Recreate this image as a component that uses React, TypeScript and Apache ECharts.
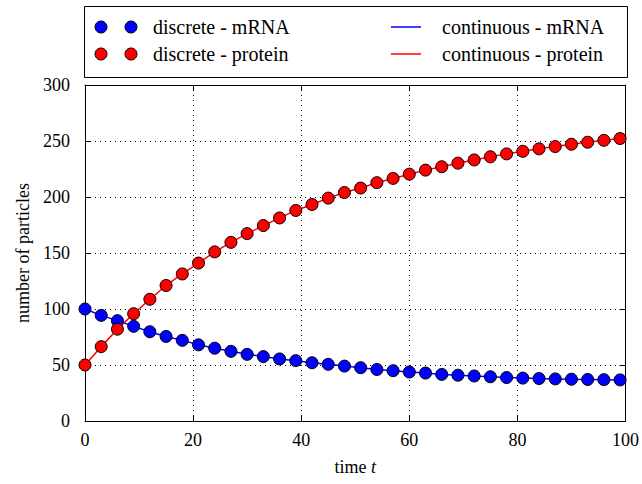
import React, { useEffect, useRef } from "react";
import * as echarts from "echarts";

const times = [0, 3, 6, 9, 12, 15, 18, 21, 24, 27, 30, 33, 36, 39, 42, 45, 48, 51, 54, 57, 60, 63, 66, 69, 72, 75, 78, 81, 84, 87, 90, 93, 96, 99];
const mrna = [100, 94.3, 89.6, 84.5, 79.7, 75.5, 72, 68, 65, 62.2, 59.5, 57.5, 55.4, 53.9, 52, 50.6, 49, 47.6, 46, 44.9, 43.7, 42.8, 41.6, 40.9, 40.2, 39.5, 38.8, 38.3, 37.9, 37.6, 37.3, 37.1, 36.9, 36.7];
const protein = [50, 66.4, 82, 95.8, 108.7, 121, 131.3, 141, 151, 159.5, 167.3, 174.5, 181.3, 188, 193.3, 199, 204, 208, 212.8, 216.6, 220.4, 224, 227, 230.2, 233.1, 235.9, 238.5, 240.8, 243, 245, 247.1, 248.9, 250.6, 252.2];
const xTicks = [0, 20, 40, 60, 80, 100];
const yTicks = [0, 50, 100, 150, 200, 250, 300];
const seriesNames = ["discrete - mRNA", "discrete - protein", "continuous - mRNA", "continuous - protein"];
const colors = ["#0000ff", "#ff0000"];

const FONT = "Liberation Serif";

export default function App() {
  const ref = useRef<HTMLDivElement>(null);
  useEffect(() => {
    if (!ref.current) return;
    const chart = echarts.init(ref.current, null, { renderer: "svg" });
    const pts = (ys: number[]) => times.map((t, i) => [t, ys[i]]);
    const xMin = xTicks[0];
    const xMax = xTicks[xTicks.length - 1];
    const yMin = yTicks[0];
    const yMax = yTicks[yTicks.length - 1];
    const baseText = { fontFamily: FONT, fontSize: 18, color: "#000" };

    const rowsY = [27, 54];
    const legendGraphics: any[] = [
      {
        type: "rect",
        shape: { x: 84.5, y: 6.5, width: 543, height: 71 },
        style: { fill: "#fff", stroke: "#000", lineWidth: 1 },
        silent: true,
        z: 10,
      },
    ];
    const legendText = (text: string, x: number, y: number) => ({
      type: "text",
      x,
      y,
      style: {
        text,
        fontFamily: FONT,
        fontSize: 20,
        fill: "#000",
        verticalAlign: "middle",
        align: "left",
      },
      silent: true,
      z: 11,
    });
    rowsY.forEach((y, r) => {
      [101, 131].forEach((cx) =>
        legendGraphics.push({
          type: "circle",
          shape: { cx, cy: y, r: 6 },
          style: { fill: colors[r], stroke: "#000", lineWidth: 1 },
          silent: true,
          z: 11,
        })
      );
      legendGraphics.push(legendText(seriesNames[r], 153, y));
      legendGraphics.push({
        type: "line",
        shape: { x1: 391, y1: y, x2: 421, y2: y },
        style: { stroke: colors[r], lineWidth: 1.5 },
        silent: true,
        z: 11,
      });
      legendGraphics.push(legendText(seriesNames[r + 2], 442, y));
    });

    chart.setOption({
      animation: false,
      backgroundColor: "#fff",
      textStyle: { fontFamily: FONT },
      grid: { left: 85, right: 15, top: 85, bottom: 63, show: false },
      graphic: legendGraphics,
      xAxis: [
        {
          type: "value",
          min: xMin,
          max: xMax,
          interval: 20,
          name: "time {i|t}",
          nameLocation: "middle",
          nameGap: 37,
          nameTextStyle: {
            ...baseText,
            rich: { i: { fontFamily: FONT, fontSize: 18, fontStyle: "italic", color: "#000" } },
          },
          axisLine: { show: true, onZero: false, lineStyle: { color: "#000", width: 1 } },
          axisTick: { show: true, inside: true, length: 6, lineStyle: { color: "#000" } },
          axisLabel: { ...baseText, margin: 10 },
          splitLine: { show: true, lineStyle: { color: "#000", type: [1, 4], width: 1 } },
        },
        {
          type: "value",
          position: "top",
          min: xMin,
          max: xMax,
          interval: 20,
          axisLine: { show: true, onZero: false, lineStyle: { color: "#000", width: 1 } },
          axisTick: { show: true, inside: true, length: 6, lineStyle: { color: "#000" } },
          axisLabel: { show: false },
          splitLine: { show: false },
        },
      ],
      yAxis: [
        {
          type: "value",
          min: yMin,
          max: yMax,
          interval: 50,
          name: "number of particles",
          nameLocation: "middle",
          nameGap: 52,
          nameTextStyle: baseText,
          axisLine: { show: true, onZero: false, lineStyle: { color: "#000", width: 1 } },
          axisTick: { show: true, inside: true, length: 6, lineStyle: { color: "#000" } },
          axisLabel: { ...baseText, margin: 15 },
          splitLine: { show: true, lineStyle: { color: "#000", type: [1, 4], width: 1 } },
        },
        {
          type: "value",
          position: "right",
          min: yMin,
          max: yMax,
          interval: 50,
          axisLine: { show: true, onZero: false, lineStyle: { color: "#000", width: 1 } },
          axisTick: { show: true, inside: true, length: 6, lineStyle: { color: "#000" } },
          axisLabel: { show: false },
          splitLine: { show: false },
        },
      ],
      series: [
        {
          name: seriesNames[2],
          type: "line",
          data: pts(mrna),
          symbol: "none",
          lineStyle: { color: colors[0], width: 1.5 },
          itemStyle: { color: colors[0] },
          z: 2,
        },
        {
          name: seriesNames[3],
          type: "line",
          data: pts(protein),
          symbol: "none",
          lineStyle: { color: colors[1], width: 1.5 },
          itemStyle: { color: colors[1] },
          z: 2,
        },
        {
          name: seriesNames[0],
          type: "scatter",
          data: pts(mrna),
          symbol: "circle",
          symbolSize: 12,
          itemStyle: { color: colors[0], borderColor: "#000", borderWidth: 1, opacity: 1 },
          z: 3,
        },
        {
          name: seriesNames[1],
          type: "scatter",
          data: pts(protein),
          symbol: "circle",
          symbolSize: 12,
          itemStyle: { color: colors[1], borderColor: "#000", borderWidth: 1, opacity: 1 },
          z: 3,
        },
      ],
    });
    return () => chart.dispose();
  }, []);
  return <div ref={ref} style={{ width: 642, height: 484, position: "absolute", left: 0, top: 0 }} />;
}
